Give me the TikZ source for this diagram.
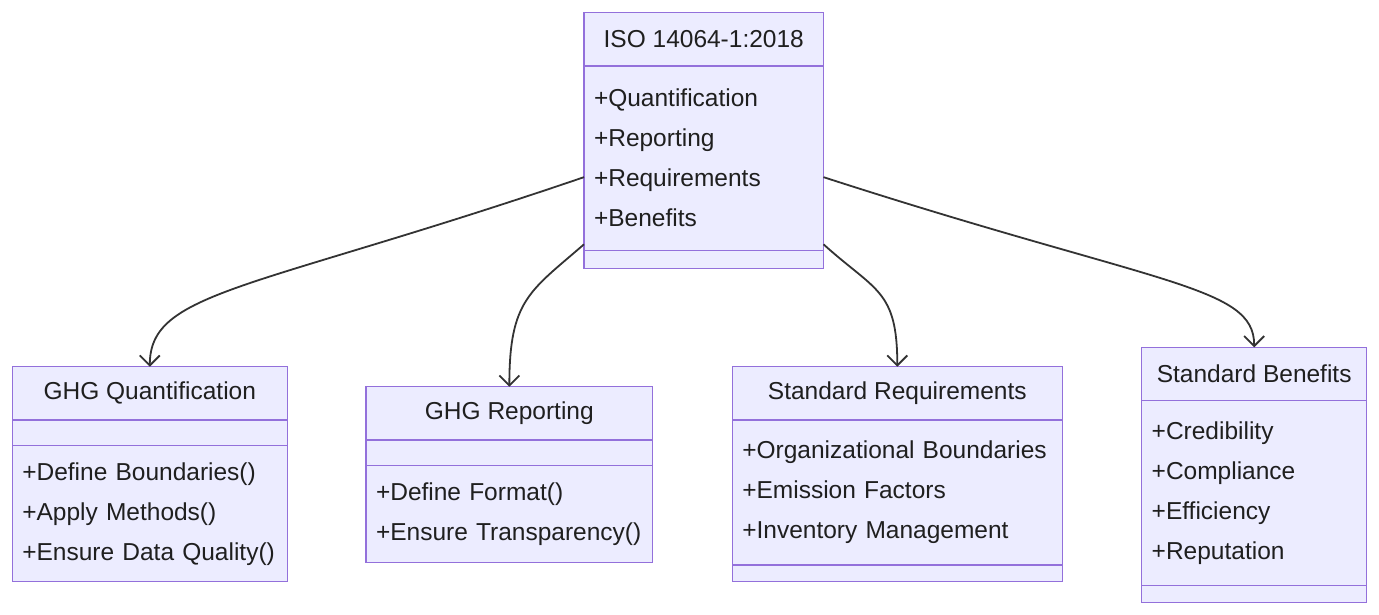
\documentclass[tikz,border=0pt]{standalone}
\usepackage{fontspec}
\setmainfont{Liberation Sans}
\usetikzlibrary{arrows.meta,positioning,calc}
\definecolor{clsfill}{HTML}{ECECFF}
\definecolor{clsline}{HTML}{9370DB}
\definecolor{linkgray}{HTML}{333333}
\definecolor{clstext}{HTML}{1F1F1F}
\tikzset{
clstitle/.style={draw=clsline, fill=clsfill, line width=1.5pt, outer sep=0pt, inner sep=0pt, minimum height=53.3pt, text=clstext, font=\fontsize{24.5}{30}\selectfont},
clsbody/.style={draw=clsline, fill=clsfill, line width=1.5pt, outer sep=0pt, inner xsep=10pt, inner ysep=0pt, align=left, text=clstext, font=\fontsize{24.5}{40}\selectfont},
clsarrow/.style={-{Straight Barb[length=10pt,width=20pt]}, line width=1.8pt, draw=linkgray}
}

\begin{document}
\begin{tikzpicture}[x=1pt,y=-1pt]
\useasboundingbox (0,0) rectangle (1379,615);

\node[clstitle, minimum width=239.5pt, anchor=north west] (iso) at (584,12.7) {ISO 14064-1:2018};
\node[clsbody, text width=219.5pt, minimum height=184.3pt, below=0pt of iso] (isoattr) {+Quantification\\+Reporting\\+Requirements\\+Benefits};
\node[clsbody, text width=219.5pt, minimum height=18pt, below=0pt of isoattr] (isometh) {};

\node[clstitle, minimum width=275pt, anchor=north west] (ghgq) at (12.3,366.7) {GHG Quantification};
\node[clsbody, text width=255pt, minimum height=25.7pt, below=0pt of ghgq] (ghgqattr) {};
\node[clsbody, text width=255pt, minimum height=136pt, below=0pt of ghgqattr] (ghgqmeth) {+Define Boundaries()\\+Apply Methods()\\+Ensure Data Quality()};

\node[clstitle, minimum width=286.7pt, anchor=north west] (ghgr) at (366,386.7) {GHG Reporting};
\node[clsbody, text width=266.7pt, minimum height=25.7pt, below=0pt of ghgr] (ghgrattr) {};
\node[clsbody, text width=266.7pt, minimum height=97pt, below=0pt of ghgrattr] (ghgrmeth) {+Define Format()\\+Ensure Transparency()};

\node[clstitle, minimum width=330pt, anchor=north west] (stdreq) at (732.3,366.7) {Standard Requirements};
\node[clsbody, text width=310pt, minimum height=145pt, below=0pt of stdreq] (stdreqattr) {+Organizational Boundaries\\+Emission Factors\\+Inventory Management};
\node[clsbody, text width=310pt, minimum height=16.7pt, below=0pt of stdreqattr] (stdreqmeth) {};

\node[clstitle, minimum width=225pt, anchor=north west] (stdben) at (1141.7,347.3) {Standard Benefits};
\node[clsbody, text width=205pt, minimum height=185pt, below=0pt of stdben] (stdbenattr) {+Credibility\\+Compliance\\+Efficiency\\+Reputation};
\node[clsbody, text width=205pt, minimum height=16.7pt, below=0pt of stdbenattr] (stdbenmeth) {};

\draw[clsarrow] ([yshift=-19pt]isoattr.west) .. controls +(-334,114) and +(0,-76) .. (ghgq.north);
\draw[clsarrow] ([yshift=6pt]isoattr.south west) .. controls +(-54,47) and +(0,-87) .. (ghgr.north);
\draw[clsarrow] ([yshift=6pt]isoattr.south east) .. controls +(52,47) and +(0,-77) .. (stdreq.north);
\draw[clsarrow] ([yshift=-19pt]isoattr.east) .. controls +(337,109) and +(0,-62) .. (stdben.north);
\end{tikzpicture}
\end{document}
